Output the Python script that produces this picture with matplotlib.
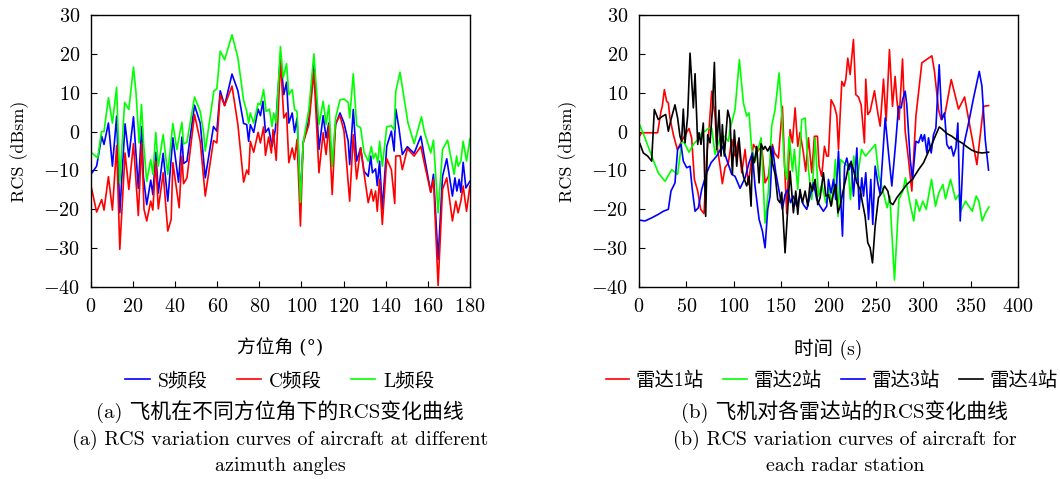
import matplotlib
matplotlib.use("Agg")
from matplotlib import pyplot as plt
from matplotlib.ticker import FuncFormatter

plt.rcParams['font.family'] = ['cmr10', 'Noto Sans CJK SC', 'DejaVu Serif']
plt.rcParams['axes.unicode_minus'] = False
plt.rcParams['mathtext.fontset'] = 'cm'
plt.rcParams['font.size'] = 13

# (a) RCS vs azimuth angle
s_angle = [0, 2.7, 5.1, 6.2, 8.3, 10.2, 12.2, 13.7, 16.2, 18, 20.2, 22.5, 24.1, 24.9, 26.5, 28.4, 29.4,
           30.8, 32, 34.3, 36.5, 38.9, 41.6, 43.2, 44, 45.6, 49.2, 51.9, 54.3, 58.2, 59.8, 61.4, 63.5,
           67, 69.8, 72.5, 74, 74.9, 75.7, 77.3, 79.4, 80.5, 81.7, 82.9, 84.4, 86, 87.6, 90, 91.6, 92.9,
           94, 95.6, 96.7, 97.9, 99.5, 100.8, 103.5, 105.9, 108.3, 110.3, 111.7, 113, 114.6, 116.2,
           118.3, 120.2, 122.2, 122.9, 124.6, 126.2, 128.1, 129.7, 131.7, 132.9, 133.7, 135.2, 136,
           137.1, 138.4, 140.5, 142.7, 144, 144.8, 146.3, 147.9, 150.3, 153.5, 156.7, 158.3, 161.4,
           162.7, 164.9, 167, 169, 171.7, 172.9, 173.8, 174.9, 175.7, 176.8, 178.1, 180]
s_rcs = [-11, -8.9, -1.2, -3.3, 2.2, -8.9, 4, -20.9, 2, -6.5, 3.8, -14.6, 1.3, -11.5, -18.8, -12.5,
         -16.2, -5.3, -15.8, -5.6, -17.9, -1.6, -13, -1.4, -8.2, -7.6, 6.8, 2.2, -11.9, 1.3, 0.1, 10.5,
         6.7, 14.8, 10.5, 2.1, 1.8, -2.5, 1.8, -0.2, 5.8, 4.1, 7.8, -0.2, 0.9, -3.8, 0.5, 19.4, 9.5,
         12.7, 2.2, 4.8, -0.2, 3.5, -17.5, -2.9, 3.1, 18.1, -4.6, 4.1, -1.6, 2.2, -8.9, 1.8, 4.8, 2.2,
         -2.5, -8.5, 5.7, -7.6, -4.2, -10.2, -11.5, -6.3, -10.6, -9.6, -13.9, -7.6, -20, -3.8, 0.1,
         -5, 5.8, 0.9, -5.9, -3.9, -5.6, -1.2, -6.3, -15.6, -11, -32.9, -11.5, -7, -16.6, -11.9,
         -15.3, -12.3, -15.6, -7.9, -14.5, -12.8]

c_angle = [0, 2.7, 5.1, 6.2, 8.3, 10.2, 12.2, 13.7, 16.2, 18, 20.2, 22.5, 24.1, 25.2, 26.5, 28.4, 29.4,
           30.8, 32, 34.3, 36.5, 38.1, 38.9, 41.9, 43.2, 44, 45.6, 49.2, 51.9, 54.3, 58.2, 59.8, 61.4,
           63.5, 67, 69.8, 72.5, 74, 74.9, 75.7, 77.3, 79.4, 80.5, 82, 82.9, 84.4, 85.7, 86.5, 88, 90,
           91.6, 92.9, 94, 95.6, 96.7, 97.9, 99.5, 100.8, 103.5, 105.9, 108.3, 110.3, 111.7, 113,
           114.6, 116.2, 118.3, 120.2, 122.9, 124.6, 126.2, 128.1, 129.7, 131.7, 133.2, 134.1, 135.2,
           136, 137.1, 138.4, 140.5, 142.7, 144.3, 144.8, 146.8, 147.9, 150.3, 153.5, 156.7, 158.3,
           161.4, 162.7, 164.9, 167, 169, 171.7, 173.3, 174.4, 175.7, 176.8, 178.4, 180]
c_rcs = [-13.9, -20.7, -17.5, -20.2, -11.6, -20.2, -3.6, -30.3, -5.5, -14.9, -3.1, -21.6, -2.9, -20,
         -23, -17.9, -20.2, -7.6, -19.9, -10.6, -25.6, -22.6, -8, -19.6, -6.3, -13.4, -11.9, 4.4,
         -2.5, -16.6, -2.3, -2.9, 9.5, 6.7, 11.7, 1.8, -13, -9.9, -11, -2.5, -5.3, -0.2, -2.9, 1.2,
         -6.1, -1.4, -5.5, 0.5, -7.4, 18.5, 3.5, 4.8, -8, -4.2, -7.2, -2, -24.3, -2.9, 1.8, 15.5,
         -10.6, -0.3, -5.9, 1.8, -16.2, 2.2, 4.1, 0.1, -17.9, -0.8, -12.2, -4.2, -10.6, -18.3, -14.9,
         -17.9, -15.3, -20.5, -12.3, -23.9, -7, -9.8, -18.5, -6.3, -6.2, -9.8, -4.4, -6.3, -3.8, -8,
         -15.6, -12.3, -39.6, -14.9, -11.9, -23, -17.9, -20.9, -17.9, -14, -20.5, -14]

l_angle = [0, 3.2, 5, 6.2, 8.3, 10.2, 12.2, 13.7, 16, 18, 20.2, 21.4, 22.9, 24, 25, 26.5, 28.4, 29.4,
           30.8, 32, 34.3, 36.5, 38.9, 40.8, 43.2, 44, 45.6, 49.2, 51.9, 53.5, 54.3, 58.4, 59.8, 61.4,
           63.5, 67, 69.8, 72.5, 74, 74.9, 75.7, 77.3, 79.4, 80.5, 82, 83.2, 84.8, 86, 86.8, 88, 90,
           91.3, 92.9, 94, 95.6, 96.7, 97.9, 99.5, 100.8, 103.5, 105.9, 108.3, 110.3, 111.7, 113,
           114.6, 116.2, 118.3, 120.2, 122.2, 122.9, 124.6, 126.2, 128.1, 129.7, 131.7, 133.2, 134.1,
           135.2, 136.3, 137.1, 138.4, 140.5, 142.7, 144, 144.8, 146.8, 150.6, 153.5, 157, 158.3,
           161.4, 162.7, 164.9, 167, 169.4, 172.5, 173.7, 174.4, 175.7, 176.8, 178.4, 180]
l_rcs = [-5.3, -6.8, 0, 0, 8.7, 2.2, 11.4, -13.2, 7.5, 5.7, 16.6, 10, -2.9, 7, -3, -12.8, -7.2, -11,
         -0.2, -8.9, -0.8, -11, 2.1, -4.6, 2.4, -3.2, -2.7, 8.9, 5.2, -0.2, -5, 10.5, 11, 20.7, 18.5,
         24.9, 19, 8.1, 5.2, 2.2, 4.8, 2.2, 7.3, 6.9, 10.8, 5.2, 5.8, 1.3, 4.8, 2.2, 21.9, 13.8, 17.5,
         9.5, 10.8, 5.7, 5.2, -18.2, -2.9, 5.7, 20, 1.8, 7.8, 1.8, 6.8, -8.9, 3.5, 8.2, 8.4, 7.5, 3.5,
         14.9, 1.6, 1, -5.3, -7.6, -3.8, -7, -5.6, -8, -2.5, -8.9, 1.2, 1.5, 0.5, 10.4, 15.3, 2.2,
         -3.1, 3.8, 0.1, -5.5, -2.2, -20.9, -4.6, -2.2, -11, -6.3, -8.9, -7.6, -2.5, -7.6, -1.9]

# (b) RCS vs time for each radar station
r1_t = [1, 2.8, 19.7, 23.2, 24.6, 26.8, 29.2, 31, 32.7, 36.3, 40.5, 43.3, 47.9, 52.8, 55.6, 58.5, 62,
        65.1, 68.7, 71.5, 73.9, 76.8, 80.3, 82, 85.6, 88, 90.8, 94.4, 97.9, 101.4, 104.9, 108.5, 112,
        115.5, 120.8, 125.4, 129.6, 133.1, 136.6, 140.8, 143, 147.2, 151.4, 154.2, 156, 159.5, 162,
        164.8, 167.6, 170, 173.6, 176, 178.9, 182.4, 185.2, 188.4, 190.1, 192.9, 195.8, 198.2, 200,
        202.8, 206.3, 208.8, 210.6, 214.1, 216.5, 218.3, 220.4, 222.9, 226.4, 228.9, 231.7, 234.5,
        238, 239.4, 241.5, 244, 248.6, 252.1, 254.6, 258.1, 260.9, 264.4, 267.6, 270.4, 272.2, 274.6,
        278.2, 281, 284.5, 288, 292.3, 298.6, 309.2, 311.9, 316.2, 319, 323.2, 329.6, 337.3, 343.7,
        349.6, 356.7, 363.7, 369]
r1_rcs = [-1, -0.3, -0.3, 5.2, 6.5, 10.8, 7.8, 7.4, 3.5, -0.8, -4.6, -3.3, -1.2, 0.8, -1.6, -12.3,
          -15.3, -20, -21.1, -6.3, 0.5, 10.4, 4, -2.9, -8.9, -13.4, -9.3, -8, -2, -6.3, -2.5, -10.6,
          -4.6, -13.6, -3.3, -5, -3.8, -13.2, -11.5, -3.3, -5.5, -6.8, 6.5, -11.5, -21.1, 0.5, -2.9,
          6.1, -3.8, -0.2, -5.5, -10.2, -1.6, -10.6, -1.2, -1.2, -8.9, -11.5, -3.8, -6.3, -6.3, 8.2,
          6.5, 4.1, -4.6, 12.9, 11.7, 13.4, 18.9, 14.7, 23.7, 9.5, 8.9, 6.9, -2.9, 13.5, 4.4, 5.2,
          10.5, 4.8, 1.4, 13.5, 2.7, 21.1, 6.5, 14.2, 8.2, 3.1, 18.7, 0.1, -7.2, -15.3, 3.9, 17.7,
          19.5, 15.5, 5.7, 3.1, 4.8, 13.4, 5.8, 8.9, 1, -8.5, 6.5, 6.7]

r2_t = [1, 6.3, 13.4, 20.4, 27.5, 34.5, 40.8, 45.3, 47.9, 52.8, 58.5, 62.7, 66.2, 69.7, 73.9, 76.8,
        80.3, 85.6, 90.1, 94.4, 96.1, 101.4, 106, 110.2, 113.7, 116.2, 119, 122.5, 128.9, 133.1,
        136.6, 140.1, 143.7, 147.9, 150.7, 153.5, 156, 158.5, 162, 164.1, 167.6, 171.8, 175.4, 178.9,
        182.4, 186, 189.4, 193, 197.2, 200.7, 203.5, 205.3, 207.3, 210.2, 212.7, 216.2, 220.8, 223.2,
        226.8, 230.3, 234.9, 239.1, 244.4, 249.6, 253.2, 258.5, 262, 264.8, 269.7, 274.3, 278.5,
        281.3, 285.6, 290.1, 292.6, 296.1, 299.6, 303.2, 308.8, 313, 316.5, 320.8, 323.6, 328.9,
        334.2, 337.7, 339.4, 344.7, 348.2, 351.8, 356, 358.8, 362.3, 365.8, 369.4]
r2_rcs = [1.6, -1.6, -6.3, -10.6, -12.8, -9.8, -11, -2.5, -2.9, -5.3, -2.9, -2, -0.3, 0.1, 0.9, 0.9,
          -5.9, -1.6, -1.2, -2.5, 0.5, 5.7, 18.5, 7.4, 4, 4.8, -4.6, -7.6, -1.6, -23.5, -15.3, 1.4,
          5.7, 15.1, 4.8, -8.9, -12.3, -1.2, -10.2, -4.6, -14.9, 3.1, 3.5, -9.8, -17.5, -1.6, -16.6,
          -13.6, -18.3, -14.5, -18.8, -14.5, -7.2, -21.8, -7.2, -8, -8.9, -17.5, -6.3, -12.3, -4.6,
          -6.3, -4.8, -3.3, -11.5, -16.2, -19.6, -16.6, -38.2, -17.5, -15.3, -11.9, -17.9, -23,
          -17.5, -20.5, -17.9, -20, -12.3, -19.2, -15.8, -13.6, -17.3, -12.3, -17.5, -16.2, -20.5,
          -17.9, -19.2, -20.5, -16.6, -17.9, -23, -20.9, -19.4]

r3_t = [1, 6.3, 13.4, 20.4, 25.7, 31, 33.8, 38, 40.8, 44.4, 46.8, 50.4, 53.9, 56.3, 59.2, 62.7, 66.2,
        71.5, 76.1, 82, 88, 92.6, 97.9, 101.4, 106.7, 112, 116.2, 119.7, 122.5, 126.8, 130.3, 133.1,
        135.9, 138.4, 140.8, 144.4, 147.9, 151.4, 154.2, 157, 159.9, 163, 166.5, 170, 173.6, 177.1,
        180.6, 184.2, 187.7, 191.2, 194.7, 198.2, 200, 202.8, 205.3, 207.7, 210.6, 214.8, 217,
        219.4, 221.8, 224, 226.4, 230, 232.4, 235.2, 237, 239.4, 242.3, 244.7, 246.8, 249.3, 252.1,
        254.6, 259.9, 263.4, 266.9, 271.1, 274, 276.8, 278.2, 281, 282.7, 286.3, 288.7, 292.3,
        295.1, 297.9, 299.3, 301.4, 303.9, 305.6, 308.5, 310.9, 313.4, 316.9, 319.7, 322.5, 325,
        327.5, 329.6, 332, 334.5, 336.6, 339.1, 342.6, 347.9, 353.2, 359.2, 362, 365.5, 369]
r3_rcs = [-22.8, -23, -22.2, -21.3, -20.5, -20, -15.3, -13.2, -4.6, -3.3, -7.6, -9.3, -8.9, -14.9,
          -20.5, -19.6, -14.9, -10.6, -8, -6.3, -3.8, -7.2, -11, -11.5, -14.6, -11.9, -8, -5.5, -14,
          -22.6, -25.6, -29.9, -20, -16.6, -3.8, -10.6, -15.3, -20, -16.2, -14.9, -18.3, -16.6,
          -19.2, -16.2, -18.8, -20, -16.6, -13.2, -17.5, -19.2, -20.5, -19.2, -12.3, -15.8, -12.3,
          -17.5, -5, -26.9, -8.9, -6.8, -9.8, -7.6, -16.6, -4.2, -20, -11.9, -16.6, -10.6, -22.6,
          -12.3, -23.9, -8.9, -13.2, -16.2, 3.5, -5.5, -14, -2.5, 6.5, 6.1, 8.2, 10.4, 6.9, -7.2,
          -12.3, -2.5, -2.9, -0.8, -2.5, -0.8, -5.5, -1.6, -5.5, -0.8, 0.9, 17.2, 3.1, 4.8, -3.3,
          -4.4, -3.8, -6.3, -4.2, 2.2, -23, -3.8, 2.2, 8.7, 15.5, 11.7, -2, -9.9]

r4_t = [1, 4.6, 9.2, 13.4, 16.2, 20.4, 23.9, 28.2, 31, 33.8, 38, 40.8, 43.3, 45, 46.8, 48.6, 51.4,
        53.9, 57.4, 59.2, 62, 63.4, 65.5, 67.9, 70.4, 72.5, 75, 77.5, 79.6, 82, 84.5, 86.6, 88, 90.1,
        93.7, 96.1, 98.6, 100.7, 103.2, 105.6, 107.7, 110.2, 113.7, 116.2, 118.3, 119.7, 121.8,
        124.3, 126.8, 128.9, 131.3, 133.1, 135.9, 138.4, 140.8, 143.7, 146.5, 148.9, 150.7, 154.2,
        157, 159.5, 163, 165.5, 167.6, 170, 172.5, 175.4, 178.2, 180.6, 183.1, 185.9, 188.7, 191.2,
        194.7, 197.2, 200, 202.8, 205.3, 207.7, 210, 212.3, 215.8, 218.3, 221.1, 223.9, 226.4, 230,
        233.5, 235.9, 238.7, 241.5, 244, 246.5, 249.3, 252.8, 256.3, 259.2, 262.7, 265.1, 268,
        272.2, 277.5, 282.7, 288.7, 295.1, 300.4, 304.9, 309.2, 312.7, 317, 319.7, 325, 330.3,
        335.6, 340.8, 346.1, 351.4, 356.7, 362, 369]
r4_rcs = [-3.1, -5.5, -6.3, -7.6, 5.7, 3.1, 3.8, 4.4, 0.1, 3.1, 6.9, 3.5, -1.2, -2.5, 5.8, -2.9, 4,
          20.2, 6.1, 14.9, -3.3, -0.3, -3.3, 2.2, -21.8, -0.8, -2.9, 5.7, 17.8, -4.6, 5.5, -6.3, 1.8,
          -6.3, 5.5, 3.1, -11, 0.4, -8.9, -1.6, -7.6, -11.5, -14, -11.5, -19.2, -6.3, -8, -3.8,
          -13.2, -3.1, -4.6, -3.8, -5, -3.8, -8, -11, -17.5, -18.3, -15.6, -31.2, -20, -10.2, -20.9,
          -15.3, -21.3, -14.9, -18.3, -15.3, -19.2, -13.2, -15.3, -12.3, -18.8, -17, -10.6, -16.6,
          -16.2, -19.2, -15.8, -13.6, -20.9, -19.2, -14.9, -12.3, -8.9, -7.9, -9.8, -13.2, -14.9,
          -18.3, -21.8, -28.6, -29.9, -33.8, -24.3, -17, -15.8, -14, -15.3, -18.2, -18.8, -17,
          -15.3, -13.6, -12.3, -9.8, -8, -5.5, -3.3, -1.2, 1.2, 0.7, -0.5, -1.2, -2.2, -2.9, -3.9,
          -4.8, -5.3, -5.5, -5.3]

cjk = ['cmr10', 'Noto Sans CJK SC', 'DejaVu Serif']

fig = plt.figure(figsize=(10.6, 4.79), dpi=100)
ax1 = fig.add_axes([0.0858, 0.4008, 0.3575, 0.5678])
ax2 = fig.add_axes([0.6028, 0.4008, 0.3575, 0.5678])

lw = 1.2
ax1.plot(s_angle, s_rcs, color='#0000ff', lw=lw, label='S频段')
ax1.plot(c_angle, c_rcs, color='#ff0000', lw=lw, label='C频段')
ax1.plot(l_angle, l_rcs, color='#00ff00', lw=lw, label='L频段')
ax1.set_xlim(0, 180)
ax1.set_xticks(range(0, 181, 20))
# cmr10 maps the degree sign to a ligature, so this label uses DejaVu Serif
ax1.set_xlabel('方位角 (°)', family=['DejaVu Serif', 'Noto Sans CJK SC'], fontsize=13.5)

ax2.plot(r1_t, r1_rcs, color='#ff0000', lw=lw, label='雷达1站')
ax2.plot(r2_t, r2_rcs, color='#00ff00', lw=lw, label='雷达2站')
ax2.plot(r3_t, r3_rcs, color='#0000ff', lw=lw, label='雷达3站')
ax2.plot(r4_t, r4_rcs, color='#000000', lw=lw, label='雷达4站')
ax2.set_xlim(0, 400)
ax2.set_xticks(range(0, 401, 50))
ax2.set_xlabel('时间 (s)', family=cjk, fontsize=14)

fmt = FuncFormatter(lambda v, p: '$%d$' % round(v))
for ax in (ax1, ax2):
    ax.set_ylim(-40, 30)
    ax.set_yticks(range(-40, 31, 10))
    ax.xaxis.set_major_formatter(fmt)
    ax.yaxis.set_major_formatter(fmt)
    ax.set_ylabel('RCS (dBsm)', fontsize=13)
    ax.yaxis.set_label_coords(-0.164, 0.5)
    ax.xaxis.set_label_coords(0.5, -0.19)
    ax.tick_params(direction='in', length=4, labelsize=14.5, pad=8)
    for sp in ax.spines.values():
        sp.set_linewidth(1.0)

ax1.legend(loc='center', bbox_to_anchor=(0.264, 0.2046), bbox_transform=fig.transFigure,
           ncol=3, frameon=False, handlelength=1.25, handletextpad=0.4, columnspacing=1.5,
           prop={'family': cjk, 'size': 14})
ax2.legend(loc='center', bbox_to_anchor=(0.7845, 0.2046), bbox_transform=fig.transFigure,
           ncol=4, frameon=False, handlelength=1.2, handletextpad=0.35, columnspacing=1.0,
           prop={'family': cjk, 'size': 14})

fig.text(0.264, 0.140, '(a) 飞机在不同方位角下的RCS变化曲线', ha='center', va='center',
         family=cjk, fontsize=15)
fig.text(0.264, 0.081, '(a) RCS variation curves of aircraft at different', ha='center',
         va='center', fontsize=14.4)
fig.text(0.264, 0.027, 'azimuth angles', ha='center', va='center', fontsize=14.4)
fig.text(0.797, 0.140, '(b) 飞机对各雷达站的RCS变化曲线', ha='center', va='center',
         family=cjk, fontsize=15)
fig.text(0.797, 0.081, '(b) RCS variation curves of aircraft for', ha='center', va='center',
         fontsize=14.4)
fig.text(0.797, 0.027, 'each radar station', ha='center', va='center', fontsize=14.4)

fig.savefig('out.png', dpi=100)
